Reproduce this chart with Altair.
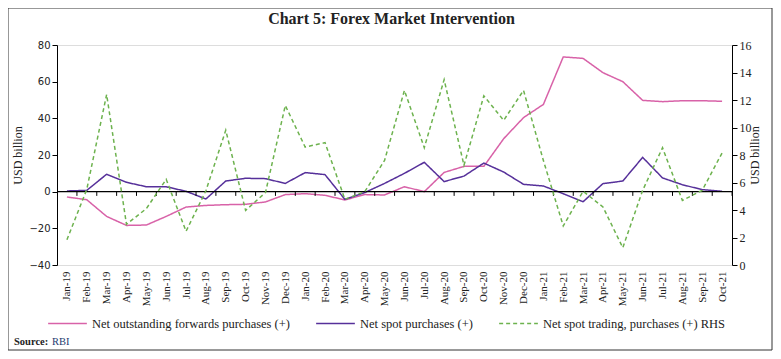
import altair as alt
import pandas as pd

months = ["Jan-19","Feb-19","Mar-19","Apr-19","May-19","Jun-19","Jul-19","Aug-19","Sep-19","Oct-19",
          "Nov-19","Dec-19","Jan-20","Feb-20","Mar-20","Apr-20","May-20","Jun-20","Jul-20","Aug-20",
          "Sep-20","Oct-20","Nov-20","Dec-20","Jan-21","Feb-21","Mar-21","Apr-21","May-21","Jun-21",
          "Jul-21","Aug-21","Sep-21","Oct-21"]

forwards = [-2.9, -4.4, -13.5, -18.4, -18.2, -13.5, -8.4, -7.5, -7.1, -6.9,
            -5.6, -1.6, -1.1, -2.0, -4.5, -1.6, -1.8, 2.7, 0.0, 10.5,
            13.8, 13.8, 28.9, 40.4, 47.6, 73.5, 72.7, 64.9, 60.0, 49.8,
            49.1, 49.6, 49.6, 49.3]

spot = [0.4, 0.7, 9.5, 5.1, 2.7, 2.7, 0.2, -4.0, 5.8, 7.3,
        7.1, 4.5, 10.4, 9.3, -4.2, -0.5, 4.5, 10.0, 16.0, 5.5,
        8.5, 15.6, 10.7, 4.0, 3.1, -1.1, -5.5, 4.4, 5.8, 18.7,
        7.5, 3.8, 1.1, 0.2]

trading_rhs = [1.84, 5.5, 12.4, 2.96, 4.1, 6.23, 2.45, 5.4, 9.8, 3.97,
               5.27, 11.6, 8.58, 8.9, 4.78, 5.33, 7.61, 12.7, 8.53, 13.48,
               7.25, 12.3, 10.52, 12.7, 7.6, 2.84, 5.36, 4.22, 1.26, 5.43,
               8.53, 4.7, 5.43, 8.15]

series_names = ["Net outstanding forwards purchases (+)",
                "Net spot purchases (+)",
                "Net spot trading, purchases (+) RHS"]
series_colors = ["#d862a8", "#56309a", "#6db24e"]

left_ticks = [-40, -20, 0, 20, 40, 60, 80]
right_ticks = [0, 2, 4, 6, 8, 10, 12, 14, 16]

chart_title = "Chart 5: Forex Market Intervention"

W, H = 675, 220
SERIF = "Liberation Serif"

left_df = pd.DataFrame({
    "month": months * 2,
    "value": forwards + spot,
    "series": [series_names[0]] * len(months) + [series_names[1]] * len(months),
})
right_df = pd.DataFrame({"month": months, "value": trading_rhs, "series": series_names[2]})
zero_df = pd.DataFrame({"month": months})

xscale = alt.Scale(type="point", domain=months, padding=0.5)
xaxis = alt.Axis(title=None, labelAngle=270, labelFont=SERIF, labelFontSize=11,
                 labelColor="#222", domain=False, ticks=False, labelPadding=6,
                 labelBaseline="middle", labelAlign="right", grid=False)
xenc = alt.X("month:N", sort=months, scale=xscale, axis=xaxis)

yscale_left = alt.Scale(domain=[-40, 80], nice=False)
yaxis_left = alt.Axis(title="USD billion", values=left_ticks, titleFont=SERIF,
                      titleFontSize=12, titleFontWeight="normal", titleColor="#222",
                      labelFont="DejaVu Sans", labelFontSize=10, labelColor="#222",
                      domainColor="#000", tickColor="#000", tickSize=5, grid=False,
                      titleX=-33)

color = alt.Color("series:N",
                  scale=alt.Scale(domain=series_names, range=series_colors),
                  legend=alt.Legend(title=None, orient="none", legendX=-10, legendY=258,
                                    direction="horizontal", symbolType="stroke",
                                    symbolSize=1500, symbolStrokeWidth=1.6,
                                    labelFont=SERIF, labelFontSize=12.5, labelColor="#222",
                                    labelLimit=400, columnPadding=22, symbolOffset=0,
                                    labelOffset=4))
dash = alt.StrokeDash("series:N",
                      scale=alt.Scale(domain=series_names, range=[[1, 0], [1, 0], [4, 3]]),
                      legend=None)

left_lines = alt.Chart(left_df).mark_line(strokeWidth=1.5).encode(
    x=xenc,
    y=alt.Y("value:Q", scale=yscale_left, axis=yaxis_left),
    color=color,
    strokeDash=dash,
)

zero_line = alt.Chart(pd.DataFrame({"z": [0]})).mark_rule(color="#000", strokeWidth=1.2).encode(
    y=alt.Y("z:Q", scale=yscale_left, axis=yaxis_left),
    x=alt.value(0), x2=alt.value(W),
)
tick_marks = alt.Chart(zero_df).mark_rule(color="#000", strokeWidth=1, xOffset=10).encode(
    x=xenc,
    y=alt.YDatum(0, scale=yscale_left, axis=yaxis_left),
    y2=alt.Y2Datum(-2.3),
)

left_layer = alt.layer(left_lines, zero_line, tick_marks)

right_line = alt.Chart(right_df).mark_line(strokeWidth=1.5).encode(
    x=xenc,
    y=alt.Y("value:Q", scale=alt.Scale(domain=[0, 16], nice=False),
            axis=alt.Axis(title="USD billion", orient="right", values=right_ticks,
                          titleFont=SERIF, titleFontSize=12, titleFontWeight="normal",
                          titleColor="#222", titleAngle=270, titlePadding=10,
                          labelFont=SERIF, labelFontSize=12, labelColor="#222",
                          domainColor="#000", tickColor="#000", tickSize=5, grid=False)),
    color=color,
    strokeDash=dash,
)

frame = alt.Chart(pd.DataFrame({"a": [0]})).mark_rect(fill=None, stroke="#333", strokeWidth=1).encode(
    x=alt.value(-49), x2=alt.value(W + 40), y=alt.value(-37), y2=alt.value(H + 85)
)

title_text = alt.Chart(pd.DataFrame({"t": [chart_title]})).mark_text(
    font=SERIF, fontSize=16, fontWeight="bold", align="center", baseline="alphabetic", color="#222"
).encode(text="t:N", x=alt.value(W / 2 - 3), y=alt.value(-21))

source_bold = alt.Chart(pd.DataFrame({"t": ["Source:"]})).mark_text(
    font=SERIF, fontSize=10.5, fontWeight="bold", align="left", baseline="alphabetic", color="#222"
).encode(text="t:N", x=alt.value(-43), y=alt.value(300))
source_txt = alt.Chart(pd.DataFrame({"t": ["RBI"]})).mark_text(
    font=SERIF, fontSize=10.5, align="left", baseline="alphabetic", color="#1d3a70"
).encode(text="t:N", x=alt.value(-5), y=alt.value(300))

chart = alt.layer(
    left_layer, right_line, frame, title_text, source_bold, source_txt
).resolve_scale(y="independent").properties(
    width=W, height=H,
    autosize=alt.AutoSizeParams(type="none"),
    padding={"left": 49, "top": 37, "right": 41, "bottom": 86},
).configure_view(stroke=None).configure(background="white")

chart.save("out.html", embed_options={"renderer": "svg", "actions": False})
